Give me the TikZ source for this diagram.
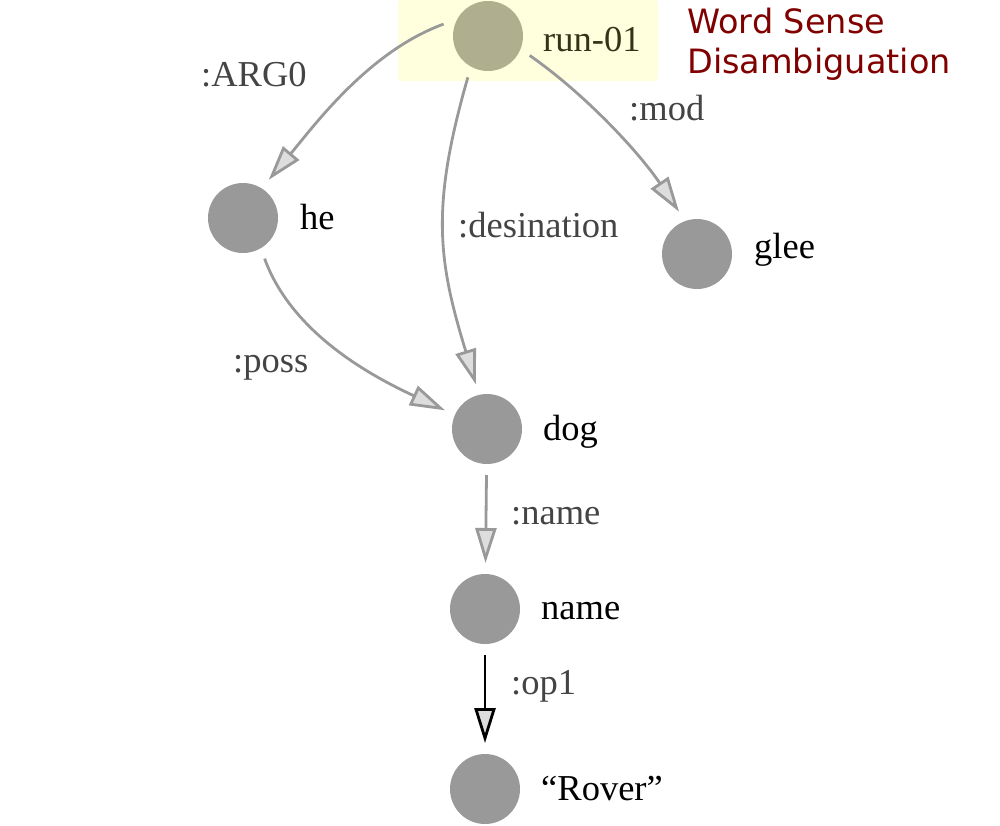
\documentclass[tikz,border=0pt]{standalone}
\usepackage{fontspec}
\setmainfont{Liberation Serif}
\newfontfamily\dejavu{DejaVu Sans}
\usetikzlibrary{arrows.meta}
\definecolor{nodegray}{RGB}{153,153,153}
\definecolor{runfill}{RGB}{175,175,143}
\definecolor{hilite}{RGB}{255,255,221}
\definecolor{edgegray}{RGB}{153,153,153}
\definecolor{lblgray}{RGB}{68,68,68}
\definecolor{wsd}{RGB}{128,0,0}
\definecolor{runtext}{RGB}{51,51,25}
\definecolor{tipfill}{RGB}{221,221,221}
\begin{document}
\begin{tikzpicture}[x=1pt,y=1pt,
  concept/.style={circle,fill=nodegray,minimum size=70pt,inner sep=0pt,outer sep=11pt},
  lbl/.style={anchor=base west,inner sep=0pt,font=\fontsize{36.5}{40}\selectfont},
  elbl/.style={lbl,text=lblgray},
  wsdtext/.style={anchor=base west,inner sep=0pt,text=wsd,font=\dejavu\fontsize{33.5}{40}\selectfont},
  rel/.style={draw=edgegray,line width=2.8pt,-{Triangle[length=35pt,width=21pt,fill=tipfill]}},
]
\useasboundingbox (0,0) rectangle (1000,-825);
\fill[hilite,rounded corners=3pt] (398,0) rectangle (658,-81);
% concepts
\node[concept,fill=runfill] (run) at (488,-36) {};
\node[concept] (he) at (243,-218) {};
\node[concept] (glee) at (697,-254) {};
\node[concept] (dog) at (487,-429) {};
\node[concept] (name) at (485,-609) {};
\node[concept] (rover) at (485,-789) {};
% concept labels
\node[lbl,text=runtext] (runlbl) at (543,-51) {run-01};
\node[lbl] (helbl) at (300,-229) {he};
\node[lbl] (gleelbl) at (754,-258) {glee};
\node[lbl] (doglbl) at (543,-440) {dog};
\node[lbl] (namelbl) at (541,-619) {name};
\node[lbl] (roverlbl) at (541,-800) {``Rover''};
% annotation
\node[wsdtext] (wsd1) at (687,-33) {Word Sense};
\node[wsdtext] (wsd2) at (687,-73) {Disambiguation};
% relations
\draw[rel] (run.165) .. controls +(200:80) and +(50:70) .. (he.56);
\draw[rel] (run.244) .. controls +(254:135) and +(107:130) .. (dog.104);
\draw[rel] (run.335) .. controls +(-35:70) and +(124:70) .. (glee.113);
\draw[rel] (he.298) .. controls +(-70:80) and +(155:80) .. (dog.156);
\draw[rel] (dog) -- (name);
\draw[rel,draw=black] (name) -- (rover);
% relation labels
\node[elbl] (arg0) at (201,-86) {:ARG0};
\node[elbl] (mod) at (629,-120) {:mod};
\node[elbl] (dest) at (458,-237) {:desination};
\node[elbl] (poss) at (233,-372) {:poss};
\node[elbl] (nm) at (511,-524) {:name};
\node[elbl] (op1) at (511,-694) {:op1};
\end{tikzpicture}
\end{document}
